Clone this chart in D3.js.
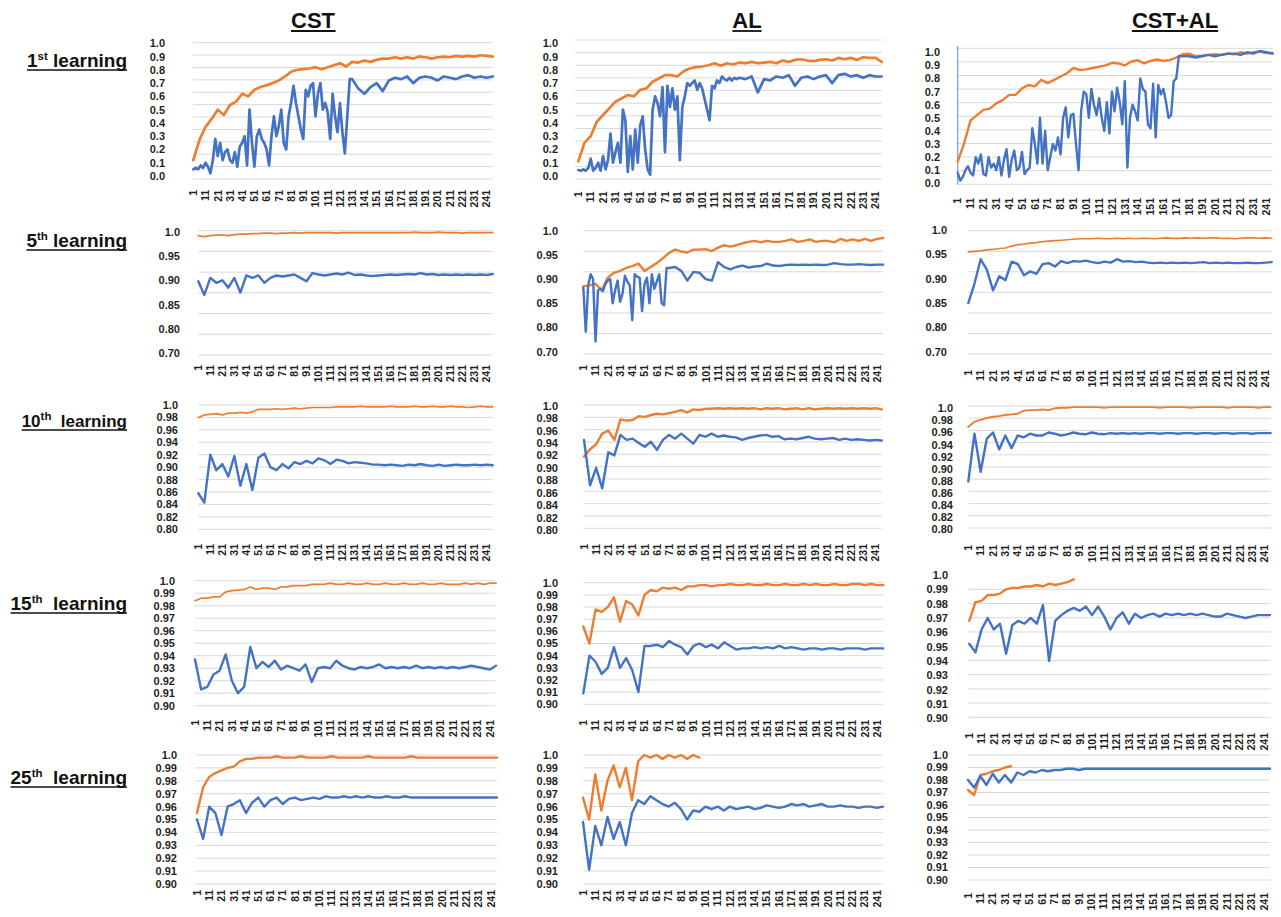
<!DOCTYPE html>
<html><head><meta charset="utf-8">
<script src="https://cdn.jsdelivr.net/npm/d3@7"></script>
<style>
body{margin:0;background:#fff}
svg{display:block;font-family:"Liberation Sans",Arial,sans-serif}
</style>
</head><body>
<svg id="c" width="1281" height="917"></svg>
<script>
// ---------- categories / labels ----------
const sampleEpochs = [1,6,11,16,21,26,31,36,41,46,51,56,61,66,71,76,81,86,91,96,
  101,106,111,116,121,126,131,136,141,146,151,156,161,166,171,176,181,186,191,196,
  201,206,211,216,221,226,231,236,241,246];
// finer sampling (every 2 epochs) used for the early, very noisy stretches
const fineTo129 = d3.range(1, 130, 2).concat(d3.range(131, 247, 5));
const fineTo175 = d3.range(1, 176, 2).concat(d3.range(181, 247, 5));
const fineTo69 = d3.range(1, 70, 2).concat(d3.range(71, 247, 5));
const tickLabels = ["1","11","21","31","41","51","61","71","81","91","101","111","121",
  "131","141","151","161","171","181","191","201","211","221","231","241"];
const columnTitles = ["CST","AL","CST+AL"];
const rowTitles = [["1","st"," learning"],["5","th"," learning"],["10","th","  learning"],
  ["15","th","  learning"],["25","th","  learning"]];
const yLabels1 = ["1.0","0.9","0.8","0.7","0.6","0.5","0.4","0.3","0.2","0.1","0.0"];
const yLabels5 = ["1.0","0.95","0.90","0.85","0.80","0.70"];
const yLabels10 = ["1.0","0.98","0.96","0.94","0.92","0.90","0.88","0.86","0.84","0.82","0.80"];
const yLabels15 = ["1.0","0.99","0.98","0.97","0.96","0.95","0.94","0.93","0.92","0.91","0.90"];

// ---------- series values ----------
// 1st learning
const cst1Orange = [0.12,0.27,0.37,0.43,0.50,0.46,0.535,0.56,0.62,0.60,
  0.65,0.67,0.685,0.70,0.72,0.75,0.785,0.80,0.805,0.81,
  0.82,0.805,0.82,0.835,0.85,0.825,0.86,0.855,0.87,0.86,
  0.875,0.885,0.885,0.895,0.885,0.895,0.885,0.90,0.895,0.885,
  0.895,0.90,0.895,0.905,0.90,0.905,0.90,0.91,0.905,0.90];
const cst1Blue = [0.05,0.06,0.05,0.08,0.06,0.10,0.07,0.02,0.12,0.28,
  0.15,0.25,0.12,0.18,0.20,0.12,0.10,0.18,0.07,0.22,
  0.25,0.30,0.08,0.50,0.25,0.07,0.30,0.35,0.28,0.25,
  0.20,0.08,0.30,0.45,0.30,0.38,0.50,0.25,0.20,0.45,
  0.55,0.68,0.55,0.45,0.35,0.28,0.65,0.60,0.68,0.70,
  0.45,0.62,0.70,0.50,0.55,0.48,0.28,0.62,0.45,0.33,
  0.55,0.33,0.17,0.45,0.73,
  0.73,0.66,0.62,0.67,0.70,0.64,0.72,0.74,0.73,0.75,
  0.70,0.74,0.75,0.74,0.72,0.75,0.74,0.73,0.75,0.76,
  0.74,0.75,0.74,0.75];
const al1Orange = [0.11,0.25,0.30,0.41,0.46,0.51,0.56,0.585,0.61,0.60,
  0.65,0.66,0.71,0.735,0.76,0.76,0.75,0.79,0.81,0.82,
  0.825,0.835,0.85,0.83,0.85,0.84,0.855,0.85,0.86,0.85,
  0.855,0.86,0.85,0.87,0.86,0.875,0.88,0.87,0.865,0.875,
  0.88,0.87,0.89,0.88,0.89,0.875,0.895,0.89,0.89,0.86];
const al1Blue = [0.045,0.04,0.05,0.04,0.06,0.13,0.04,0.06,0.10,0.04,
  0.15,0.05,0.12,0.32,0.10,0.18,0.25,0.10,0.50,0.42,
  0.03,0.30,0.05,0.35,0.10,0.38,0.45,0.20,0.05,0.01,
  0.50,0.60,0.55,0.45,0.67,0.18,0.68,0.52,0.66,0.50,
  0.60,0.12,0.52,0.60,0.70,0.68,0.70,0.72,0.65,0.70,
  0.66,0.58,0.50,0.42,0.68,0.66,0.72,0.70,0.75,0.73,
  0.72,0.74,0.72,0.74,0.73,
  0.74,0.73,0.75,0.63,0.73,0.72,0.75,0.74,0.76,0.68,
  0.74,0.75,0.73,0.75,0.76,0.70,0.76,0.77,0.75,0.76,
  0.74,0.76,0.75,0.75];
const csal1Orange = [0.165,0.305,0.48,0.52,0.56,0.57,0.61,0.635,0.675,0.675,
  0.725,0.75,0.74,0.79,0.765,0.79,0.815,0.84,0.88,0.865,
  0.87,0.88,0.89,0.90,0.92,0.915,0.90,0.93,0.94,0.915,
  0.935,0.945,0.935,0.94,0.96,0.985,0.99,0.97,0.975,0.98,
  0.985,0.98,0.99,0.985,1.0,0.99,1.0,1.005,0.995,0.995];
const csal1Blue = [0.08,0.02,0.05,0.10,0.13,0.08,0.06,0.20,0.15,0.22,
  0.07,0.06,0.20,0.12,0.15,0.10,0.20,0.06,0.18,0.26,
  0.05,0.18,0.25,0.10,0.12,0.24,0.07,0.10,0.12,0.42,
  0.30,0.15,0.50,0.15,0.40,0.10,0.20,0.30,0.25,0.35,
  0.22,0.50,0.58,0.35,0.52,0.53,0.30,0.10,0.55,0.70,
  0.68,0.50,0.72,0.60,0.52,0.65,0.50,0.40,0.62,0.38,
  0.70,0.55,0.73,0.62,0.45,0.78,0.12,0.50,0.60,0.55,
  0.48,0.80,0.72,0.70,0.45,0.42,0.76,0.35,0.75,0.68,
  0.72,0.62,0.50,0.52,0.78,0.80,0.97,0.97,
  0.97,0.96,0.97,0.98,0.97,0.98,0.99,0.99,0.98,1.0,
  0.99,1.01,1.0,0.99];
// 5th learning
const cst5Orange = [0.992,0.990,0.992,0.993,0.993,0.992,0.994,0.995,0.995,0.996,
  0.996,0.997,0.997,0.996,0.997,0.997,0.998,0.997,0.998,0.998,
  0.998,0.998,0.998,0.997,0.998,0.998,0.998,0.998,0.998,0.998,
  0.998,0.998,0.998,0.998,0.998,0.998,0.999,0.998,0.998,0.998,
  0.999,0.998,0.998,0.998,0.997,0.998,0.998,0.998,0.998,0.998];
const cst5Blue = [0.898,0.87,0.905,0.895,0.90,0.885,0.905,0.875,0.91,0.905,
  0.91,0.895,0.905,0.91,0.908,0.91,0.912,0.905,0.898,0.915,
  0.912,0.91,0.912,0.914,0.912,0.916,0.911,0.912,0.91,0.909,
  0.91,0.911,0.912,0.911,0.912,0.913,0.912,0.915,0.912,0.913,
  0.911,0.912,0.911,0.912,0.911,0.912,0.911,0.912,0.911,0.913];
const al5Orange = [0.885,0.887,0.89,0.877,0.903,0.913,0.917,0.923,0.927,0.932,
  0.917,0.925,0.933,0.943,0.954,0.961,0.957,0.955,0.961,0.961,
  0.962,0.958,0.965,0.97,0.967,0.97,0.974,0.977,0.979,0.976,
  0.979,0.977,0.977,0.979,0.982,0.977,0.979,0.982,0.977,0.979,
  0.979,0.976,0.983,0.979,0.982,0.979,0.983,0.979,0.983,0.985];
const al5Blue = [0.883,0.783,0.887,0.91,0.90,0.742,0.877,0.88,0.875,0.89,
  0.897,0.90,0.85,0.877,0.897,0.853,0.87,0.907,0.895,0.887,
  0.815,0.91,0.905,0.903,0.834,0.89,0.903,0.85,0.91,0.88,
  0.895,0.91,0.85,0.846,0.923,
  0.923,0.925,0.917,0.897,0.915,0.913,
  0.90,0.897,0.935,0.925,0.92,0.925,0.928,0.924,0.926,0.927,
  0.932,0.928,0.927,0.929,0.93,0.929,0.93,0.929,0.93,0.929,
  0.93,0.933,0.931,0.93,0.93,0.931,0.93,0.929,0.93,0.93];
const csal5Orange = [0.955,0.956,0.957,0.959,0.96,0.962,0.963,0.967,0.97,0.971,
  0.973,0.974,0.976,0.977,0.978,0.979,0.98,0.981,0.982,0.982,
  0.982,0.983,0.982,0.982,0.983,0.982,0.983,0.982,0.983,0.983,
  0.982,0.983,0.984,0.983,0.983,0.984,0.983,0.984,0.983,0.984,
  0.984,0.983,0.983,0.982,0.983,0.984,0.984,0.983,0.984,0.983];
const csal5Blue = [0.85,0.89,0.94,0.918,0.876,0.905,0.897,0.935,0.93,0.907,
  0.915,0.91,0.93,0.932,0.925,0.936,0.932,0.936,0.935,0.937,
  0.934,0.932,0.935,0.933,0.94,0.935,0.936,0.934,0.935,0.933,
  0.932,0.933,0.932,0.933,0.932,0.933,0.932,0.933,0.934,0.932,
  0.933,0.932,0.933,0.932,0.932,0.933,0.932,0.932,0.933,0.934];
// 10th learning
const cst10Orange = [0.980,0.984,0.985,0.986,0.984,0.987,0.987,0.988,0.987,0.989,
  0.993,0.993,0.993,0.994,0.993,0.994,0.995,0.994,0.995,0.996,
  0.996,0.996,0.996,0.997,0.997,0.997,0.997,0.998,0.997,0.997,
  0.997,0.997,0.998,0.997,0.997,0.997,0.998,0.997,0.997,0.998,
  0.997,0.997,0.998,0.997,0.997,0.996,0.997,0.998,0.997,0.997];
const cst10Blue = [0.858,0.843,0.92,0.895,0.905,0.885,0.918,0.87,0.905,0.863,
  0.915,0.922,0.90,0.895,0.905,0.898,0.908,0.905,0.91,0.906,
  0.914,0.911,0.905,0.912,0.91,0.906,0.908,0.907,0.906,0.904,
  0.904,0.903,0.904,0.903,0.902,0.904,0.903,0.905,0.903,0.902,
  0.904,0.902,0.903,0.904,0.903,0.903,0.904,0.903,0.904,0.903];
const al10Orange = [0.918,0.93,0.938,0.955,0.96,0.945,0.978,0.976,0.977,0.983,
  0.982,0.985,0.987,0.986,0.988,0.99,0.993,0.989,0.994,0.993,
  0.995,0.995,0.996,0.995,0.996,0.995,0.996,0.995,0.996,0.994,
  0.996,0.995,0.996,0.994,0.995,0.996,0.994,0.996,0.994,0.995,
  0.996,0.995,0.996,0.995,0.996,0.995,0.996,0.995,0.996,0.994];
const al10Blue = [0.945,0.872,0.90,0.867,0.925,0.92,0.953,0.945,0.947,0.94,
  0.934,0.942,0.929,0.945,0.953,0.947,0.955,0.947,0.939,0.953,
  0.95,0.955,0.95,0.952,0.95,0.949,0.945,0.948,0.95,0.952,
  0.953,0.95,0.951,0.946,0.947,0.946,0.948,0.95,0.947,0.946,
  0.947,0.948,0.945,0.947,0.945,0.946,0.945,0.944,0.945,0.944];
const csal10Orange = [0.969,0.978,0.981,0.984,0.986,0.987,0.989,0.99,0.991,0.996,
  0.997,0.997,0.998,0.997,1.0,1.001,1.001,1.002,1.002,1.002,
  1.002,1.002,1.001,1.002,1.002,1.002,1.002,1.002,1.002,1.002,
  1.002,1.001,1.002,1.002,1.002,1.002,1.001,1.002,1.002,1.002,
  1.002,1.002,1.001,1.002,1.002,1.002,1.002,1.001,1.002,1.002];
const csal10Blue = [0.879,0.958,0.895,0.95,0.96,0.932,0.955,0.934,0.955,0.952,
  0.958,0.955,0.955,0.96,0.958,0.955,0.957,0.96,0.958,0.957,
  0.96,0.958,0.957,0.959,0.958,0.959,0.958,0.959,0.958,0.959,
  0.959,0.958,0.959,0.959,0.958,0.959,0.959,0.958,0.959,0.959,
  0.958,0.959,0.959,0.958,0.959,0.959,0.958,0.959,0.959,0.959];
// 15th learning
const cst15Orange = [0.984,0.986,0.986,0.987,0.987,0.991,0.992,0.9925,0.993,0.995,
  0.993,0.994,0.994,0.993,0.995,0.995,0.996,0.996,0.996,0.997,
  0.997,0.997,0.998,0.997,0.997,0.998,0.997,0.997,0.998,0.997,
  0.997,0.998,0.997,0.997,0.998,0.997,0.997,0.998,0.997,0.997,
  0.998,0.997,0.997,0.997,0.998,0.997,0.998,0.997,0.998,0.998];
const cst15Blue = [0.937,0.913,0.915,0.925,0.928,0.941,0.92,0.91,0.915,0.947,
  0.93,0.935,0.931,0.936,0.929,0.932,0.93,0.928,0.933,0.919,
  0.93,0.931,0.93,0.936,0.932,0.93,0.929,0.931,0.93,0.931,
  0.933,0.93,0.931,0.93,0.931,0.93,0.932,0.93,0.931,0.93,
  0.931,0.93,0.931,0.93,0.931,0.932,0.931,0.93,0.929,0.932];
const al15Orange = [0.964,0.95,0.978,0.976,0.98,0.988,0.968,0.985,0.982,0.973,
  0.99,0.994,0.993,0.996,0.995,0.996,0.994,0.997,0.997,0.998,
  0.998,0.997,0.998,0.998,0.999,0.998,0.998,0.999,0.998,0.998,
  0.999,0.998,0.998,0.999,0.998,0.998,0.999,0.998,0.999,0.998,
  0.998,0.999,0.998,0.998,0.999,0.999,0.998,0.999,0.998,0.998];
const al15Blue = [0.909,0.94,0.935,0.925,0.93,0.947,0.93,0.938,0.928,0.91,
  0.948,0.948,0.949,0.947,0.952,0.949,0.947,0.941,0.948,0.95,
  0.947,0.949,0.946,0.951,0.948,0.945,0.946,0.946,0.947,0.946,
  0.947,0.946,0.948,0.946,0.947,0.946,0.945,0.946,0.946,0.945,
  0.946,0.946,0.945,0.946,0.946,0.946,0.945,0.946,0.946,0.946];
const csal15Orange = [0.968,0.981,0.982,0.986,0.986,0.987,0.99,0.991,0.991,0.992,
  0.992,0.993,0.992,0.994,0.993,0.994,0.995,0.997];
const csal15Blue = [0.952,0.946,0.962,0.97,0.962,0.966,0.945,0.965,0.968,0.966,
  0.97,0.966,0.979,0.94,0.968,0.972,0.975,0.977,0.975,0.978,
  0.972,0.978,0.971,0.962,0.97,0.974,0.966,0.973,0.97,0.972,
  0.973,0.971,0.973,0.972,0.973,0.972,0.973,0.972,0.973,0.972,
  0.971,0.971,0.973,0.972,0.971,0.970,0.971,0.972,0.972,0.972];
// 25th learning
const cst25Orange = [0.955,0.975,0.983,0.986,0.988,0.99,0.991,0.995,0.997,0.997,
  0.998,0.998,0.998,0.999,0.998,0.998,0.998,0.999,0.998,0.998,
  0.998,0.998,0.999,0.998,0.998,0.998,0.998,0.998,0.999,0.998,
  0.998,0.998,0.998,0.998,0.998,0.999,0.998,0.998,0.998,0.998,
  0.998,0.998,0.998,0.998,0.998,0.998,0.998,0.998,0.998,0.998];
const cst25Blue = [0.95,0.935,0.96,0.955,0.938,0.96,0.962,0.965,0.955,0.963,
  0.967,0.96,0.965,0.967,0.962,0.966,0.967,0.965,0.966,0.967,
  0.966,0.968,0.967,0.967,0.968,0.967,0.968,0.967,0.968,0.967,
  0.967,0.968,0.967,0.967,0.968,0.967,0.967,0.967,0.967,0.967,
  0.967,0.967,0.967,0.967,0.967,0.967,0.967,0.967,0.967,0.967];
const al25Orange = [0.967,0.95,0.985,0.957,0.98,0.992,0.975,0.99,0.965,0.995,
  1.0,0.998,1.0,0.997,1.0,0.998,1.0,0.997,1.0,0.998];
const al25Blue = [0.948,0.911,0.945,0.93,0.952,0.935,0.948,0.93,0.955,0.965,
  0.962,0.968,0.965,0.962,0.96,0.963,0.958,0.95,0.957,0.956,
  0.96,0.958,0.96,0.957,0.96,0.958,0.959,0.96,0.958,0.959,
  0.961,0.96,0.959,0.96,0.962,0.961,0.962,0.96,0.961,0.962,
  0.96,0.96,0.961,0.96,0.96,0.959,0.96,0.96,0.959,0.96];
const csal25Orange = [0.972,0.968,0.984,0.985,0.987,0.988,0.99,0.991];
const csal25Blue = [0.98,0.974,0.983,0.976,0.985,0.978,0.984,0.978,0.986,0.984,
  0.987,0.986,0.988,0.987,0.988,0.988,0.989,0.989,0.988,0.989,
  0.989,0.989,0.989,0.989,0.989,0.989,0.989,0.989,0.989,0.989,
  0.989,0.989,0.989,0.989,0.989,0.989,0.989,0.989,0.989,0.989,
  0.989,0.989,0.989,0.989,0.989,0.989,0.989,0.989,0.989,0.989];

// ---------- layout (pixel placement of each small panel) ----------
const panels = [
  {labels:yLabels1, orange:[sampleEpochs,cst1Orange], blue:[fineTo129,cst1Blue],
   L:{labX:165,labTop:43.3,labBot:176,gx0:193,gx1:493,gTop:42.7,gBot:179,gN:12,dx0:193.3,dx1:492.7,tickY:190,sw:2.7}},
  {labels:yLabels1, orange:[sampleEpochs,al1Orange], blue:[fineTo129,al1Blue],
   L:{labX:558,labTop:43.3,labBot:176,gx0:575,gx1:882,gTop:40,gBot:179,gN:12,dx0:578.3,dx1:881.7,tickY:191.5,sw:2.7}},
  {labels:yLabels1, orange:[sampleEpochs,csal1Orange], blue:[fineTo175,csal1Blue], axisLine:true,
   L:{labX:940,labTop:52.3,labBot:183.3,gx0:956,gx1:1272.7,gTop:48.3,gBot:184.3,gN:11,dx0:957.7,dx1:1272.7,tickY:198,sw:2.4}},

  {labels:yLabels5, orange:[sampleEpochs,cst5Orange], blue:[sampleEpochs,cst5Blue],
   L:{labX:180,labTop:231.7,labBot:353.3,gx0:198.3,gx1:492.7,gTop:230.7,gBot:355,gN:7,dx0:198.3,dx1:492.7,tickY:365,sw:2.4,osw:1.7}},
  {labels:yLabels5, orange:[sampleEpochs,al5Orange], blue:[fineTo69,al5Blue],
   L:{labX:558,labTop:230.7,labBot:351.7,gx0:583.3,gx1:883.3,gTop:230.7,gBot:354,gN:7,dx0:583.3,dx1:883.3,tickY:365,sw:2.4}},
  {labels:yLabels5, orange:[sampleEpochs,csal5Orange], blue:[sampleEpochs,csal5Blue],
   L:{labX:947,labTop:230,labBot:351.7,gx0:967.7,gx1:1271.7,gTop:230.7,gBot:354,gN:7,dx0:968.3,dx1:1271.7,tickY:370,sw:2.4,osw:1.7}},

  {labels:yLabels10, orange:[sampleEpochs,cst10Orange], blue:[sampleEpochs,cst10Blue],
   L:{labX:178,labTop:405,labBot:529.3,gx0:198.3,gx1:492.7,gTop:405,gBot:529.3,gN:11,dx0:198.3,dx1:492.7,tickY:544,sw:2.4,osw:1.7}},
  {labels:yLabels10, orange:[sampleEpochs,al10Orange], blue:[sampleEpochs,al10Blue],
   L:{labX:558,labTop:405.7,labBot:530,gx0:583.3,gx1:881.7,gTop:405,gBot:528.3,gN:11,dx0:584,dx1:881.7,tickY:544,sw:2.4}},
  {labels:yLabels10, orange:[sampleEpochs,csal10Orange], blue:[sampleEpochs,csal10Blue],
   L:{labX:953,labTop:408.3,labBot:529.3,gx0:968.3,gx1:1270.7,gTop:406,gBot:528,gN:11,dx0:968.3,dx1:1270.7,tickY:545,sw:2.4,osw:1.9}},

  {labels:yLabels15, orange:[sampleEpochs,cst15Orange], blue:[sampleEpochs,cst15Blue],
   L:{labX:175,labTop:580.7,labBot:705.7,gx0:194.3,gx1:495,gTop:580.7,gBot:705.7,gN:11,dx0:195,dx1:496,tickY:720,sw:2.4,osw:1.7}},
  {labels:yLabels15, orange:[sampleEpochs,al15Orange], blue:[sampleEpochs,al15Blue],
   L:{labX:558,labTop:582.7,labBot:704.3,gx0:583.3,gx1:883.3,gTop:582.7,gBot:704.3,gN:11,dx0:583.3,dx1:883.3,tickY:720,sw:2.4}},
  {labels:yLabels15, orange:[sampleEpochs,csal15Orange], blue:[sampleEpochs,csal15Blue],
   L:{labX:948,labTop:575,labBot:718.3,gx0:968.3,gx1:1270.7,gTop:589.3,gBot:717.3,gN:10,dx0:969.3,dx1:1270,tickY:733,sw:2.4}},

  {labels:yLabels15, orange:[sampleEpochs,cst25Orange], blue:[sampleEpochs,cst25Blue],
   L:{labX:177,labTop:755,labBot:884,gx0:195,gx1:497,gTop:755,gBot:884,gN:11,dx0:197,dx1:497,tickY:890,sw:2.4}},
  {labels:yLabels15, orange:[sampleEpochs,al25Orange], blue:[sampleEpochs,al25Blue],
   L:{labX:558,labTop:755,labBot:884,gx0:583,gx1:883,gTop:755,gBot:884,gN:11,dx0:583,dx1:883,tickY:890,sw:2.4}},
  {labels:yLabels15, orange:[sampleEpochs,csal25Orange], blue:[sampleEpochs,csal25Blue],
   L:{labX:948,labTop:755,labBot:880,gx0:968,gx1:1270,gTop:755,gBot:880,gN:11,dx0:968,dx1:1270,tickY:893,sw:2.4}}
];

const ORANGE = "#ED7D31", BLUE = "#4472C4", GRID = "#d9d9d9", TEXT = "#1f1f1f";
const svg = d3.select("#c");

panels.forEach(p => {
  const L = p.L;
  const g = svg.append("g");
  const lp = d3.scalePoint().domain(p.labels).range([L.labTop, L.labBot]);
  const y = d3.scaleLinear().domain(p.labels.map(Number)).range(p.labels.map(d => lp(d)));
  const x = d3.scaleLinear().domain([1, 246]).range([L.dx0, L.dx1]);
  const gy = d3.scaleLinear().domain([0, L.gN - 1]).range([L.gTop, L.gBot]);

  g.append("g").selectAll("line").data(d3.range(L.gN)).join("line")
    .attr("x1", L.gx0).attr("x2", L.gx1)
    .attr("y1", d => gy(d)).attr("y2", d => gy(d))
    .attr("stroke", GRID).attr("stroke-width", 1);

  if (p.axisLine) {
    g.append("line").attr("x1", x(1)).attr("x2", x(1))
      .attr("y1", 46).attr("y2", L.gBot)
      .attr("stroke", "#6f9be0").attr("stroke-width", 1.2);
  }

  g.append("g").selectAll("text").data(p.labels).join("text")
    .attr("x", L.labX).attr("y", d => lp(d)).attr("dy", "0.36em")
    .attr("text-anchor", "end").attr("font-size", 11).attr("font-weight", "bold")
    .attr("fill", TEXT).text(d => d);

  g.append("g").selectAll("text").data(tickLabels).join("text")
    .attr("transform", d => `translate(${x(+d)},${L.tickY}) rotate(-90)`)
    .attr("dy", "0.36em").attr("text-anchor", "end")
    .attr("font-size", 10.5).attr("font-weight", "bold").attr("fill", TEXT)
    .text(d => d);

  const drawSeries = (s, color, w) => {
    const [ep, vals] = s;
    const line = d3.line().x((d, i) => x(ep[i])).y(d => y(d));
    g.append("path").attr("d", line(vals)).attr("fill", "none")
      .attr("stroke", color).attr("stroke-width", w)
      .attr("stroke-linejoin", "round").attr("stroke-linecap", "round");
  };
  drawSeries(p.orange, ORANGE, L.osw || L.sw);
  drawSeries(p.blue, BLUE, L.sw);
});

// ---------- column titles ----------
const colX = [313, 747, 1175];
columnTitles.forEach((t, i) => {
  const tx = svg.append("text").attr("x", colX[i]).attr("y", 28)
    .attr("text-anchor", "middle").attr("font-size", 22).attr("font-weight", "bold")
    .attr("fill", "#111").text(t);
  const b = tx.node().getBBox();
  svg.append("line").attr("x1", b.x).attr("x2", b.x + b.width)
    .attr("y1", 31).attr("y2", 31).attr("stroke", "#111").attr("stroke-width", 1.8);
});

// ---------- row titles ----------
const rowY = [67, 247, 427, 610, 784];
const rowSize = [19, 19, 17, 19, 19];
rowTitles.forEach((parts, i) => {
  const tx = svg.append("text").attr("x", 127).attr("y", rowY[i])
    .attr("text-anchor", "end").attr("font-size", rowSize[i]).attr("font-weight", "bold")
    .attr("fill", "#111").style("white-space", "pre");
  tx.append("tspan").text(parts[0]);
  tx.append("tspan").attr("font-size", 11.5).attr("dy", -7).text(parts[1]);
  tx.append("tspan").attr("dy", 7).text(parts[2]);
  const b = tx.node().getBBox();
  svg.append("line").attr("x1", b.x).attr("x2", b.x + b.width)
    .attr("y1", rowY[i] + 3).attr("y2", rowY[i] + 3)
    .attr("stroke", "#111").attr("stroke-width", 1.6);
});
</script>
</body></html>
